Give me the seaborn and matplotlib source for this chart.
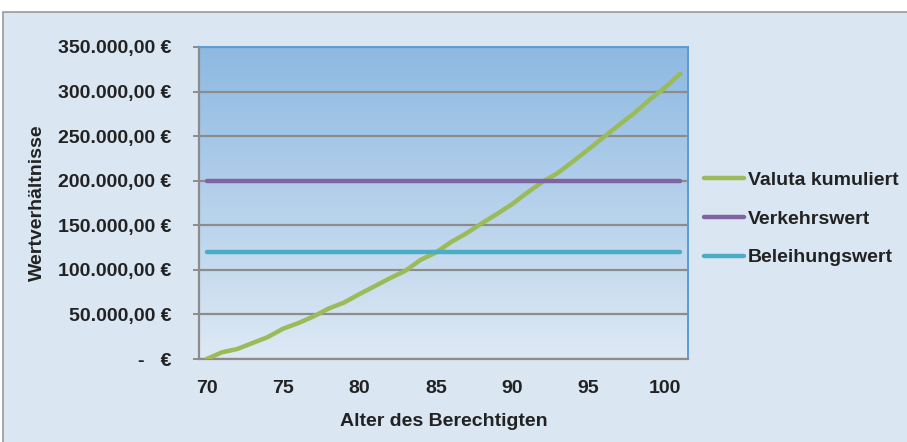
import numpy as np
import pandas as pd
import matplotlib
matplotlib.use("Agg")
import matplotlib.pyplot as plt
from matplotlib.patches import Rectangle
from matplotlib.ticker import FuncFormatter, FixedLocator
import seaborn as sns

# Alter des Berechtigten (70 .. 101)
alter = list(range(70, 102))
valuta_kumuliert = [0, 7500, 11200, 17900, 24600, 34000, 40300, 47800, 56700, 63400,
                    72800, 81700, 90700, 98900, 111200, 119400, 131300, 141000, 152200,
                    162700, 173900, 186900, 198900, 208900, 222000, 235400, 249200,
                    262700, 276100, 291000, 304500, 320100]
verkehrswert = [200000] * len(alter)
beleihungswert = [120000] * len(alter)

serien = ["Valuta kumuliert", "Verkehrswert", "Beleihungswert"]
farben = {"Valuta kumuliert": "#9BBB59", "Verkehrswert": "#8064A2", "Beleihungswert": "#4BACC6"}
x_ticks = [70, 75, 80, 85, 90, 95, 100]
y_ticks = [0, 50000, 100000, 150000, 200000, 250000, 300000, 350000]

df = pd.DataFrame({
    "Alter": alter * 3,
    "Wert": valuta_kumuliert + verkehrswert + beleihungswert,
    "Serie": [serien[0]] * len(alter) + [serien[1]] * len(alter) + [serien[2]] * len(alter),
})

sns.set_style("white")
plt.rcParams["font.family"] = ["Liberation Sans", "DejaVu Sans"]
plt.rcParams["font.weight"] = "bold"

FS = 14
TXT = "#222222"

fig = plt.figure(figsize=(9.07, 4.42), dpi=100, facecolor="white")

# chart area frame, behind everything
frame = Rectangle((3 / 907, -0.05), 1.0, 1 - 12 / 442 + 0.05,
                  transform=fig.transFigure, facecolor="#DAE6F1",
                  edgecolor="#9A9A9A", linewidth=1.2, zorder=-10)
fig.add_artist(frame)

ax = fig.add_axes([199 / 907, 1 - 359 / 442, (688 - 199) / 907, (359 - 47) / 442])
ax.set_zorder(5)
ax.set_facecolor("none")

# vertical gradient in the plot area
grad = np.linspace(0, 1, 256).reshape(-1, 1)
top = np.array([0x8D, 0xB9, 0xE2]) / 255
bot = np.array([0xDE, 0xE9, 0xF4]) / 255
img = top[None, None, :] * (1 - grad[:, :, None]) + bot[None, None, :] * grad[:, :, None]
ax.imshow(img, extent=[0, 1, 0, 1], transform=ax.transAxes, aspect="auto", zorder=0)

sns.lineplot(data=df, x="Alter", y="Wert", hue="Serie", hue_order=serien,
             palette=farben, linewidth=3.2, ax=ax, zorder=3, legend=False,
             solid_capstyle="round")

ax.set_xlim(69.5, 101.5)
ax.set_ylim(0, 350000)
ax.yaxis.set_major_locator(FixedLocator(y_ticks))
ax.xaxis.set_major_locator(FixedLocator(x_ticks))


def euro(v, pos):
    if v == 0:
        return "-   €"
    return f"{v:,.2f}".replace(",", "X").replace(".", ",").replace("X", ".") + " €"


ax.yaxis.set_major_formatter(FuncFormatter(euro))
ax.grid(axis="y", color="#8C8C8C", linewidth=1.6, zorder=1)
ax.set_axisbelow(True)

for side in ["left", "bottom"]:
    ax.spines[side].set_color("#8C8C8C")
    ax.spines[side].set_linewidth(1.6)
for side in ["top", "right"]:
    ax.spines[side].set_color("#5B9BD5")
    ax.spines[side].set_linewidth(1.4)

ax.tick_params(axis="y", which="major", length=4, width=1.4, color="#8C8C8C",
               labelsize=FS, pad=16, left=True, labelcolor=TXT)
ax.tick_params(axis="x", which="major", length=0, labelsize=FS, pad=15,
               labelcolor=TXT)
for lbl in ax.get_xticklabels() + ax.get_yticklabels():
    lbl.set_fontweight("bold")

ax.set_xlabel("Alter des Berechtigten", fontsize=FS, fontweight="bold",
              color=TXT, labelpad=12)
ax.set_ylabel("Wertverhältnisse", fontsize=FS, fontweight="bold", color=TXT)
ax.yaxis.set_label_coords(-0.313, 0.5)

handles = [plt.Line2D([0], [0], color=farben[s], linewidth=3.2) for s in serien]
leg = fig.legend(handles, serien, loc="upper left",
                 bbox_to_anchor=(686 / 907, 1 - 154 / 442), frameon=False,
                 prop={"size": FS, "weight": "bold"}, handlelength=2.1,
                 handletextpad=0.2, labelspacing=1.08, labelcolor=TXT)

fig.savefig("out.png", dpi=100, facecolor="white")
